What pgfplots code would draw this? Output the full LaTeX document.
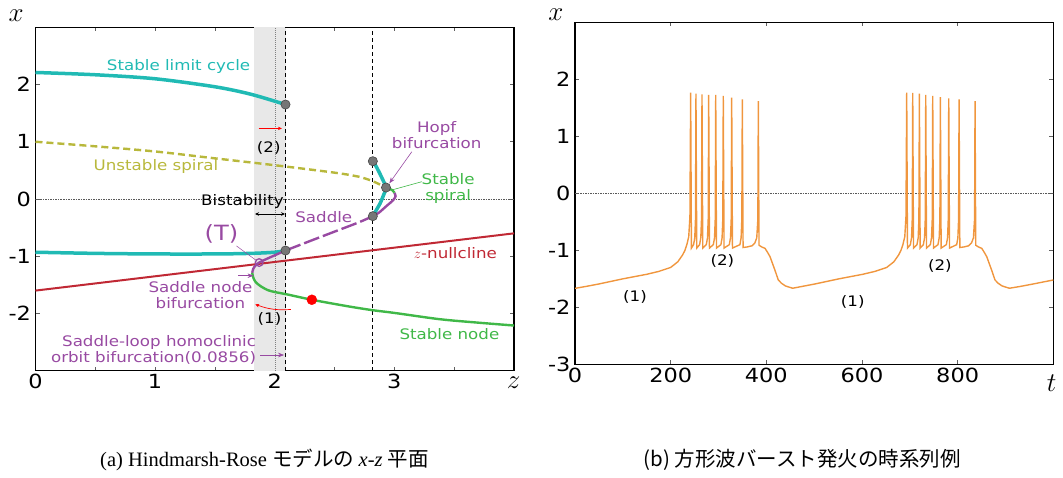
\RequirePackage{fix-cm}
\documentclass[border=0pt]{standalone}
\usepackage{pgfplots}
\pgfplotsset{compat=1.18}
\usetikzlibrary{arrows.meta}
\usepackage{fontspec}
\setmainfont{DejaVu Sans}
\newfontfamily\plotfont[FakeStretch=1.15]{DejaVu Sans}
\newfontfamily\tickfont[FakeStretch=1.15]{DejaVu Sans}
\newfontfamily\capfont{Liberation Serif}
\newfontfamily\cjk{Noto Sans CJK JP}

\definecolor{cycle}{RGB}{32,186,180}
\definecolor{unstab}{RGB}{184,184,60}
\definecolor{saddle}{RGB}{152,74,162}
\definecolor{node}{RGB}{64,184,72}
\definecolor{nullc}{RGB}{192,40,52}
\definecolor{volt}{RGB}{240,150,62}
\definecolor{band}{RGB}{232,232,232}
\definecolor{dotg}{RGB}{118,118,118}

\newcommand{\ticksize}{\tickfont\fontsize{19.5}{23}\selectfont}
\newcommand{\lbl}{\plotfont\fontsize{14.5}{16}\selectfont}
\newcommand{\varsize}{\fontsize{27}{30}\selectfont}

\pgfplotsset{
  hrplot/.style={
    scale only axis,
    axis line style={line width=1.3pt},
    tick align=inside,
    major tick length=4pt,
    tick style={gray!75!black, line width=0.8pt},
    ticklabel style={font=\ticksize},
    yticklabel style={xshift=-1pt},
    ymin=-3, ymax=3,
  },
}
\tikzset{zeroline/.style={gray!70!black, dash pattern=on 1.5pt off 1pt, line width=0.5pt}}

\begin{document}
\begin{tikzpicture}
\path[use as bounding box] (0,0) rectangle (1063pt,478pt);

% ---------------- (a) x-z plane ----------------
\begin{axis}[hrplot, at={(35.5pt,107.25pt)}, anchor=south west,
  width=478.5pt, height=343.5pt,
  xmin=0, xmax=4, xtick={0,0.5,...,4}, xticklabels={0,{},1,{},2,{},3,{},{}},
  ytick={-2,-1,0,1,2}, yticklabels={-2,-1,0,1,2}]
\fill[band] (axis cs:1.83,-3) rectangle (axis cs:2.09,3);
\draw[gray, dash pattern=on 1pt off 1pt, line width=0.5pt] (axis cs:2,-3) -- (axis cs:2,3);
\draw[zeroline] (axis cs:0,0) -- (axis cs:4,0);
\draw[black, dash pattern=on 4pt off 3pt, line width=0.9pt] (axis cs:2.09,-3) -- (axis cs:2.09,3);
\draw[black, dash pattern=on 4pt off 3pt, line width=0.9pt] (axis cs:2.82,-3) -- (axis cs:2.82,3);

% z-nullcline
\addplot[nullc, line width=2pt] coordinates {(0,-1.6) (4,-0.6)};
% unstable spiral
\addplot[unstab, line width=2.4pt, dash pattern=on 7pt off 4pt, smooth] coordinates {
  (0,1.0) (0.5,0.92) (1,0.83) (1.5,0.71) (2,0.59) (2.5,0.46) (2.7,0.39) (2.82,0.31) (2.93,0.2)};
% stable limit cycle, max and min of x
\addplot[cycle, line width=3.5pt, smooth] coordinates {
  (0,2.21) (0.5,2.17) (1,2.10) (1.5,1.96) (1.8,1.83) (2.09,1.65)};
\addplot[cycle, line width=3.5pt, smooth] coordinates {
  (0,-0.93) (0.5,-0.95) (1,-0.96) (1.5,-0.96) (1.8,-0.95) (2.0,-0.93) (2.09,-0.90)};
\addplot[cycle, line width=3.5pt, smooth] coordinates {
  (2.82,0.66) (2.85,0.56) (2.87,0.48) (2.90,0.35) (2.93,0.20) (2.91,0.07) (2.88,-0.08) (2.85,-0.19) (2.82,-0.30)};
% saddle branch
\addplot[saddle, line width=2.4pt, smooth] coordinates {
  (1.812,-1.29) (1.82,-1.22) (1.84,-1.16) (1.87,-1.11) (1.95,-1.03) (2.09,-0.90)};
\addplot[saddle, line width=2.4pt, dash pattern=on 16pt off 4pt, smooth] coordinates {
  (2.09,-0.90) (2.3,-0.73) (2.5,-0.57) (2.7,-0.41) (2.82,-0.30)};
\addplot[saddle, line width=2.4pt, smooth] coordinates {
  (2.82,-0.30) (2.87,-0.24) (2.93,-0.13) (2.99,-0.02) (3.01,0.05) (3.0,0.11)};
% stable spiral
\addplot[node, line width=2.4pt, smooth] coordinates {(3.0,0.11) (2.98,0.157) (2.93,0.20)};
% stable node
\addplot[node, line width=2.4pt, smooth] coordinates {
  (1.812,-1.29) (1.82,-1.37) (1.84,-1.45) (1.88,-1.52) (1.94,-1.59) (2.0,-1.625) (2.10,-1.665)
  (2.31,-1.76) (2.6,-1.87) (2.81,-1.94) (3.0,-1.99) (3.38,-2.10) (3.7,-2.16) (4.0,-2.21)};

% bifurcation points
\addplot[only marks, mark=*, mark size=4.6pt, mark options={fill=dotg, draw=dotg!60!black, line width=0.6pt}]
  coordinates {(2.09,1.65) (2.09,-0.90) (2.82,0.66) (2.93,0.20) (2.82,-0.30)};
\addplot[only marks, mark=*, mark size=5pt, red] coordinates {(2.31,-1.76)};
\addplot[only marks, mark=o, mark size=3.8pt, mark options={saddle, fill=white, line width=1.3pt}]
  coordinates {(1.87,-1.11)};

% annotations
\node[cycle, font=\lbl] at (axis cs:1.196,2.313) {Stable limit cycle};
\node[unstab, font=\lbl] at (axis cs:1.0075,0.576) {Unstable spiral};
\node[font=\lbl] at (axis cs:1.95,0.89) {(2)};
\draw[red, -{Stealth[length=4pt,width=3.5pt]}, line width=0.7pt] (axis cs:1.865,1.233) -- (axis cs:2.06,1.233);
\node[saddle, font=\lbl, align=center] at (axis cs:3.354,1.118) {Hopf\\bifurcation};
\draw[saddle, -{Stealth[length=6pt,width=4.5pt]}, line width=0.6pt] (axis cs:3.146,0.826) -- (axis cs:2.958,0.274);
\node[node, font=\lbl, align=center] at (axis cs:3.449,0.185) {Stable\\spiral};
\draw[node, line width=0.6pt] (axis cs:3.229,0.302) -- (axis cs:2.978,0.157);
\node[font=\lbl] at (axis cs:1.73,-0.04) {Bistability};
\draw[{Stealth[length=4pt,width=3.5pt]}-{Stealth[length=4pt,width=3.5pt]}, line width=0.6pt] (axis cs:1.835,-0.262) -- (axis cs:2.086,-0.262);
\node[saddle, font=\lbl] at (axis cs:2.41,-0.31) {Saddle};
\node[saddle, font=\plotfont\fontsize{21}{24}\selectfont] at (axis cs:1.554,-0.61) {(T)};
\draw[saddle, line width=0.5pt] (axis cs:1.68,-0.82) -- (axis cs:1.85,-1.08);
\node[nullc, font=\lbl] at (axis cs:3.51,-0.95) {$z$-nullcline};
\node[saddle, font=\lbl, align=center] at (axis cs:1.379,-1.686) {Saddle node\\bifurcation};
\draw[saddle, -{Stealth[length=6pt,width=4.5pt]}, line width=0.6pt] (axis cs:1.696,-1.34) -- (axis cs:1.823,-1.34);
\draw[red, -{Stealth[length=4pt,width=3.5pt]}, line width=0.7pt] (axis cs:2.134,-1.93) to[bend left=12] (axis cs:1.837,-1.84);
\node[font=\lbl] at (axis cs:1.956,-2.10) {(1)};
\node[node, font=\lbl] at (axis cs:3.46,-2.36) {Stable node};
\node[saddle, font=\lbl, align=right, anchor=east, inner sep=0pt] at (axis cs:1.845,-2.63) {Saddle-loop homoclinic\\orbit bifurcation(0.0856)};
\draw[saddle, -{Stealth[length=6pt,width=4.5pt]}, line width=0.6pt] (axis cs:1.88,-2.725) -- (axis cs:2.078,-2.725);
\end{axis}
\node[inner sep=0pt] at (16.2pt,462pt) {\varsize$x$};
\node[inner sep=0pt] at (513.5pt,95pt) {\varsize$z$};

% ---------------- (b) time series ----------------
\begin{axis}[hrplot, at={(575pt,113.7pt)}, anchor=south west,
  width=478.3pt, height=341.8pt,
  xmin=0, xmax=1000, xtick={0,200,...,1000}, xticklabels={0,200,400,600,800,{}},
  ytick={-3,-2,-1,0,1,2}, yticklabels={-3,-2,-1,0,1,2}]
\draw[zeroline] (axis cs:0,0) -- (axis cs:1000,0);
\addplot[volt, line width=1.4pt] table {
t x
0 -1.667
25 -1.63
50 -1.59
100 -1.50
150 -1.42
175 -1.37
200 -1.30
215 -1.20
225 -1.08
229.8 -1.00
233.8 -0.90
237.8 -0.76
240.3 -0.40
241.8 1.77
243.4 -0.96
247.9 -0.90
250.4 -0.78
251.9 -0.45
252.9 1.75
254.5 -0.96
260.5 -0.90
263.0 -0.78
264.5 -0.45
265.5 1.74
267.1 -0.96
274.5 -0.90
277.0 -0.78
278.5 -0.45
279.5 1.73
281.1 -0.96
289.2 -0.90
291.7 -0.78
293.2 -0.45
294.2 1.73
295.8 -0.96
305.0 -0.90
307.5 -0.78
309.0 -0.45
310.0 1.71
311.6 -0.96
322.6 -0.90
325.1 -0.78
326.6 -0.45
327.6 1.68
329.2 -0.96
344.8 -0.90
347.3 -0.78
348.8 -0.45
349.8 1.65
351.4 -0.95
360 -0.94
370 -0.92
376 -0.87
380 -0.78
382.3 -0.45
383.3 1.62
384.7 -0.91
390.4 -0.94
397.3 -0.965
402.2 -1.03
407.7 -1.11
418.1 -1.35
425 -1.52
432 -1.58
440 -1.625
455 -1.665
476.7 -1.63
501.7 -1.59
551.7 -1.50
601.7 -1.42
626.7 -1.37
651.7 -1.30
666.7 -1.20
676.7 -1.08
681.5 -1.00
685.5 -0.90
689.5 -0.76
692.0 -0.40
693.5 1.77
695.1 -0.96
701.1 -0.90
703.6 -0.78
705.1 -0.45
706.1 1.765
707.7 -0.96
715.0 -0.90
717.5 -0.78
719.0 -0.45
720.0 1.75
721.6 -0.96
728.3 -0.90
730.8 -0.78
732.3 -0.45
733.3 1.73
734.9 -0.96
742.9 -0.90
745.4 -0.78
746.9 -0.45
747.9 1.71
749.5 -0.96
758.9 -0.90
761.4 -0.78
762.9 -0.45
763.9 1.69
765.5 -0.96
776.4 -0.90
778.9 -0.78
780.4 -0.45
781.4 1.67
783.0 -0.96
798.0 -0.90
800.5 -0.78
802.0 -0.45
803.0 1.65
804.6 -0.95
813 -0.94
823 -0.92
829 -0.87
833 -0.78
835.4 -0.45
836.4 1.62
837.8 -0.91
843.5 -0.94
850.4 -0.965
855.3 -1.03
860.8 -1.11
871.2 -1.35
878.1 -1.52
885.1 -1.58
893.1 -1.625
908.1 -1.665
933 -1.63
958 -1.59
1000 -1.52
};
\node[font=\lbl] at (axis cs:125.4,-1.81) {(1)};
\node[font=\lbl] at (axis cs:308,-1.19) {(2)};
\node[font=\lbl] at (axis cs:580.6,-1.90) {(1)};
\node[font=\lbl] at (axis cs:763,-1.275) {(2)};
\end{axis}
\node[inner sep=0pt] at (556pt,463pt) {\varsize$x$};
\node[inner sep=0pt] at (1051.7pt,94.7pt) {\varsize$t$};

% captions
\node[font=\fontsize{20.5}{24}\selectfont] at (264.5pt,18pt)
  {\capfont (a) Hindmarsh-Rose \cjk モデルの \capfont\itshape x\upshape -\itshape z\upshape\ \cjk 平面};
\node[font=\fontsize{20.5}{24}\selectfont] at (802pt,18pt)
  {\cjk (b) 方形波バースト発火の時系列例};
\end{tikzpicture}
\end{document}
